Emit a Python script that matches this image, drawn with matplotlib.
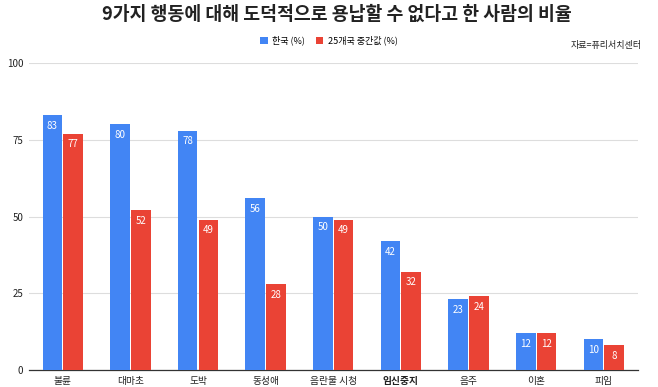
import matplotlib
matplotlib.use('Agg')
import matplotlib.pyplot as plt
import numpy as np

plt.rcParams['font.family'] = ['Noto Sans CJK KR', 'DejaVu Sans']

categories = ['불륜', '대마초', '도박', '동성애', '음란물 시청', '임신중지', '음주', '이혼', '피임']
korea = [83, 80, 78, 56, 50, 42, 23, 12, 10]
median25 = [77, 52, 49, 28, 49, 32, 24, 12, 8]
yticks = [0, 25, 50, 75, 100]

blue = '#4285F4'
red = '#EA4335'

fig = plt.figure(figsize=(6.58, 3.87), dpi=100)
ax = fig.add_axes([0.044, 0.044, 0.925, 0.793])

x = np.arange(len(categories))
w = 0.29
b1 = ax.bar(x - w / 2 - 0.008, korea, w, color=blue, label='한국 (%)', zorder=3)
b2 = ax.bar(x + w / 2 + 0.008, median25, w, color=red, label='25개국 중간값 (%)', zorder=3)

for bars, vals in [(b1, korea), (b2, median25)]:
    for r, v in zip(bars, vals):
        ax.text(r.get_x() + r.get_width() / 2, v - 1.8, str(v), ha='center', va='top',
                color='white', fontsize=7, zorder=4)

ax.set_xlim(-0.5, len(categories) - 0.5)
ax.set_ylim(0, 100)
ax.set_yticks(yticks)
ax.set_yticklabels([str(t) for t in yticks], fontsize=7, color='#222222')
ax.set_xticks(x)
ax.set_xticklabels(categories, fontsize=7, color='#222222')
for lbl in ax.get_xticklabels():
    if lbl.get_text() == '임신중지':
        lbl.set_fontweight('bold')
ax.tick_params(length=0, pad=4)
ax.grid(axis='y', color='#dddddd', linewidth=0.8, zorder=0)
for s in ['top', 'right', 'left']:
    ax.spines[s].set_visible(False)
ax.spines['bottom'].set_color('#333333')
ax.spines['bottom'].set_linewidth(0.9)

fig.text(0.512, 0.963, '9가지 행동에 대해 도덕적으로 용납할 수 없다고 한 사람의 비율',
         ha='center', va='center', fontsize=13.2, fontweight='bold', color='#222222')
fig.legend(loc='center', bbox_to_anchor=(0.5, 0.895), ncol=2, frameon=False,
           fontsize=6.5, handlelength=0.8, handleheight=0.8, columnspacing=1.2,
           handletextpad=0.5)
fig.text(0.975, 0.883, '자료=퓨리서치센터', ha='right', va='center', fontsize=6.5,
         color='#222222')

fig.savefig('out.png', dpi=100)
